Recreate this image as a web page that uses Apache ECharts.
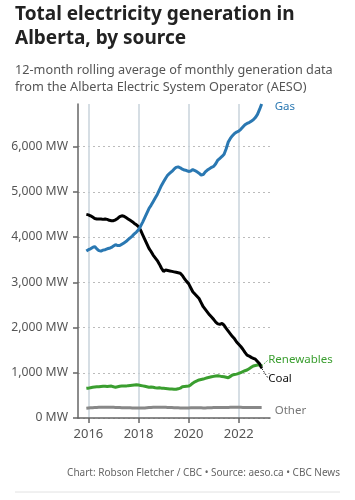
<!DOCTYPE html>
<html>
<head>
<meta charset="utf-8">
<script src="https://cdn.jsdelivr.net/npm/echarts@6/dist/echarts.min.js"></script>
<style>
  html, body { margin: 0; padding: 0; background: #fff; }
  #chart { width: 355px; height: 500px; }
</style>
</head>
<body>
<div id="chart"></div>
<script>
// monthly 12-month rolling averages, Dec 2015 .. Dec 2022 (MW)
var gas = [3690, 3720, 3740, 3770, 3790, 3740, 3700, 3690, 3710, 3720, 3740, 3750,
  3770, 3800, 3830, 3810, 3810, 3840, 3870, 3900, 3940, 3980, 4020, 4070,
  4110, 4160, 4240, 4330, 4430, 4530, 4630, 4700, 4780, 4860, 4940, 5040,
  5140, 5220, 5300, 5370, 5410, 5450, 5500, 5540, 5550, 5530, 5500, 5480,
  5470, 5450, 5460, 5490, 5470, 5440, 5410, 5370, 5380, 5440, 5480, 5510,
  5540, 5560, 5620, 5700, 5740, 5780, 5830, 5950, 6100, 6180, 6240, 6290,
  6320, 6340, 6380, 6430, 6480, 6510, 6530, 6560, 6590, 6640, 6710, 6820, 6940];
var coal = [4500, 4490, 4470, 4440, 4410, 4400, 4400, 4400, 4390, 4400, 4390, 4370,
  4360, 4360, 4380, 4410, 4450, 4470, 4460, 4430, 4400, 4370, 4340, 4300,
  4270, 4230, 4150, 4050, 3950, 3850, 3750, 3680, 3600, 3540, 3480, 3400,
  3310, 3240, 3270, 3260, 3250, 3240, 3230, 3220, 3210, 3200, 3150, 3080,
  3020, 2970, 2880, 2790, 2740, 2690, 2640, 2550, 2460, 2400, 2340, 2280,
  2230, 2180, 2120, 2080, 2070, 2090, 2050, 1980, 1920, 1860, 1800, 1750,
  1680, 1630, 1580, 1520, 1450, 1390, 1370, 1340, 1320, 1300, 1250, 1200, 1100];
var renewables = [655, 660, 670, 680, 685, 690, 690, 695, 700, 700, 695, 700,
  705, 690, 680, 690, 700, 705, 710, 705, 715, 720, 725, 730,
  735, 730, 720, 710, 700, 690, 680, 685, 680, 670, 665, 670,
  660, 655, 650, 645, 640, 640, 635, 635, 645, 660, 690, 695,
  700, 705, 730, 770, 800, 820, 840, 850, 860, 875, 890, 900,
  910, 920, 930, 935, 925, 915, 910, 900, 890, 920, 950, 960,
  970, 985, 1005, 1025, 1045, 1060, 1090, 1120, 1150, 1160, 1170, 1170, 1150];
var other = [215, 220, 225, 228, 230, 232, 235, 236, 237, 238, 238, 237,
  236, 235, 233, 232, 230, 228, 228, 226, 225, 224, 222, 222,
  223, 222, 220, 220, 222, 226, 230, 233, 236, 238, 240, 240,
  239, 238, 236, 234, 232, 230, 228, 226, 224, 222, 220, 220,
  220, 222, 224, 226, 228, 228, 226, 224, 222, 222, 224, 226,
  228, 230, 230, 231, 232, 232, 233, 234, 234, 235, 236, 236,
  236, 235, 235, 234, 234, 233, 233, 232, 232, 231, 231, 230, 230];
var yearTicks = ['2016', '2018', '2020', '2022'];
var yTicks = [0, 1000, 2000, 3000, 4000, 5000, 6000];

// month categories Aug 2015 .. Apr 2023 (axis runs a little past the data)
var monthNames = ['Jan','Feb','Mar','Apr','May','Jun','Jul','Aug','Sep','Oct','Nov','Dec'];
var months = [];
for (var i = 0; i < 93; i++) {
  var m = (7 + i) % 12, y = 2015 + Math.floor((7 + i) / 12);
  months.push(monthNames[m] + ' ' + y);
}
var lead = [null, null, null, null]; // Aug..Nov 2015 have no data

var font = 'Noto Sans';
var isYearTick = function(index, value) {
  return value.slice(0, 3) === 'Jan' && yearTicks.indexOf(value.slice(4)) >= 0;
};

// last point carries a label pulled aside with a dotted guide line
function withEndLabel(arr, text, color) {
  var d = lead.concat(arr.slice(0, -1));
  d.push({
    value: arr[arr.length - 1],
    symbol: 'circle', symbolSize: 1,
    label: { show: true, position: 'right', distance: 2, formatter: text,
      color: color, fontSize: 11.5, fontFamily: font },
    labelLine: { show: true, length2: 0, lineStyle: { color: color, type: [1.5, 1.5], width: 1 } }
  });
  return d;
}

var chart = echarts.init(document.getElementById('chart'));
var option = {
  animation: false,
  textStyle: { fontFamily: font },
  title: [{
    text: 'Total electricity generation in\nAlberta, by source',
    left: 15, top: 3, padding: 0,
    textStyle: { fontSize: 19, fontWeight: 'bold', color: '#222', lineHeight: 24, fontFamily: font }
  }, {
    text: '12-month rolling average of monthly generation data\nfrom the Alberta Electric System Operator (AESO)',
    left: 15, top: 62, padding: 0,
    textStyle: { fontSize: 12.7, fontWeight: 'normal', color: '#555', lineHeight: 17, fontFamily: font }
  }, {
    text: 'Chart: Robson Fletcher / CBC \u2022 Source: aeso.ca \u2022 CBC News',
    right: 15, top: 468, padding: 0,
    textStyle: { fontSize: 10, fontWeight: 'normal', color: '#666', fontFamily: font }
  }],
  graphic: [{
    type: 'line', shape: { x1: 15, y1: 492, x2: 340, y2: 492 },
    style: { stroke: '#e2e2e2', lineWidth: 1 }
  }],
  grid: { left: 78, right: 85, top: 104, bottom: 82, containLabel: false },
  xAxis: {
    type: 'category',
    data: months,
    boundaryGap: false,
    axisLine: { lineStyle: { color: '#666', width: 1.5 } },
    axisTick: { show: true, interval: isYearTick, length: 5, lineStyle: { color: '#666', width: 1.5 } },
    axisLabel: { interval: isYearTick, formatter: function(v) { return v.slice(4); },
      color: '#555', fontSize: 13, margin: 10, fontFamily: font },
    splitLine: { show: true, interval: isYearTick, lineStyle: { color: '#c9d3db', width: 1.5 } }
  },
  yAxis: {
    type: 'value',
    min: 0, max: 6940, interval: 1000,
    axisLine: { show: true, lineStyle: { color: '#666', width: 1.5 } },
    axisTick: { show: true, length: 5, lineStyle: { color: '#666', width: 1.5 } },
    axisLabel: {
      color: '#555', fontSize: 12.2, margin: 10, fontFamily: font, showMaxLabel: false,
      formatter: function(v) {
        return yTicks.indexOf(v) >= 0 ? v.toLocaleString('en-US') + ' MW' : '';
      }
    },
    splitLine: { show: true, showMaxLine: false, lineStyle: { color: '#bbb', type: [2, 3], width: 1 } }
  },
  series: [{
    name: 'Other', type: 'line', data: lead.concat(other), showSymbol: false,
    lineStyle: { color: '#888', width: 3 }, itemStyle: { color: '#888' },
    endLabel: { show: true, formatter: 'Other', color: '#777', fontSize: 11.5, offset: [5, 3], fontFamily: font }
  }, {
    name: 'Renewables', type: 'line', data: withEndLabel(renewables, 'Renewables', '#3a9e2f'),
    symbol: 'none', showAllSymbol: true,
    lineStyle: { color: '#3a9e2f', width: 3 }, itemStyle: { color: '#3a9e2f' },
    labelLayout: { dx: 4, dy: -6 }
  }, {
    name: 'Coal', type: 'line', data: withEndLabel(coal, 'Coal', '#111'),
    symbol: 'none', showAllSymbol: true,
    lineStyle: { color: '#000', width: 3 }, itemStyle: { color: '#000' },
    labelLayout: { dx: 4, dy: 10 }
  }, {
    name: 'Gas', type: 'line', data: lead.concat(gas), showSymbol: false,
    lineStyle: { color: '#2a78b2', width: 3 }, itemStyle: { color: '#2a78b2' },
    endLabel: { show: true, formatter: 'Gas', color: '#2a78b2', fontSize: 11.5, offset: [5, 3], fontFamily: font }
  }]
};
chart.setOption(option);
</script>
</body>
</html>
